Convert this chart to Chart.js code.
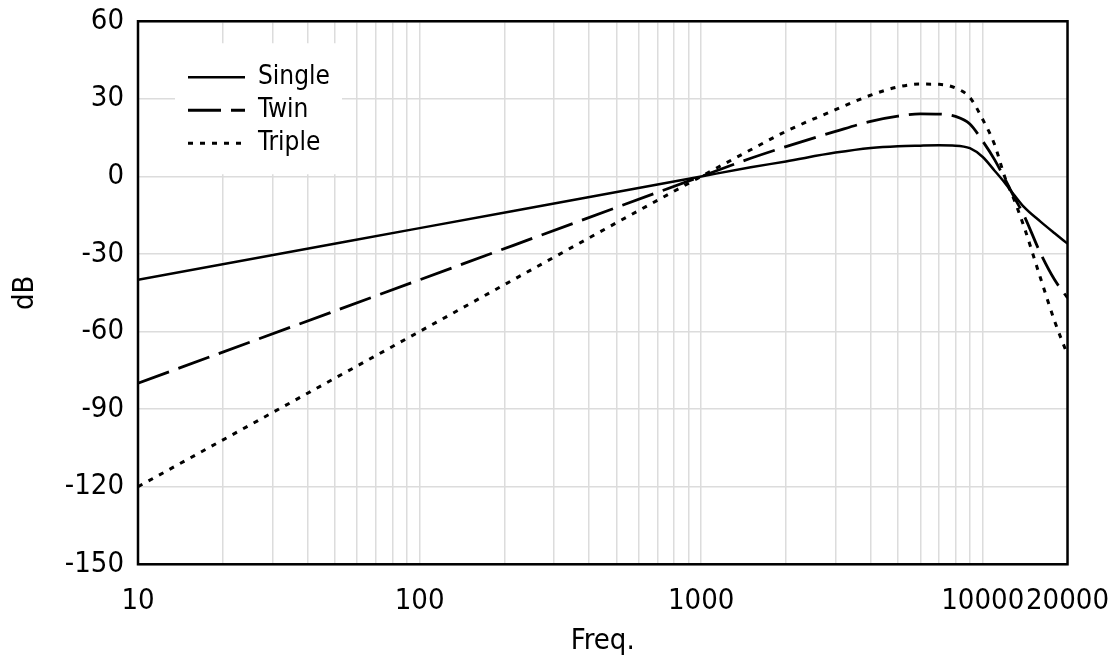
<!DOCTYPE html>
<html>
<head>
<meta charset="utf-8">
<title>Response</title>
<script src="https://cdn.jsdelivr.net/npm/chart.js@4.4.1/dist/chart.umd.min.js"></script>
<style>
  html, body { margin: 0; padding: 0; background: #fff; }
  #wrap { width: 1115px; height: 662px; }
</style>
</head>
<body>
<div id="wrap"><canvas id="response"></canvas></div>
<script>
// frequency points (Hz) and level (dB) of each filter
const freqs  = [10, 100, 1000, 1500, 2000, 3000, 4000, 5000, 6000, 7000, 8000, 9000, 10000, 11000, 12000, 13000, 14000, 16000, 18000, 20000];
const single = [-40, -20, 0, 3.5, 5.8, 9.2, 11.0, 11.7, 11.9, 12.0, 11.9, 10.9, 7.5, 2.3, -2.6, -7.5, -11.8, -17.4, -22, -26];
const twin   = [-80, -40, 0, 7.0, 11.5, 17.4, 21.3, 23.3, 24.2, 24.1, 23.2, 20.3, 13.6, 6.6, -1.1, -8.5, -15, -29.5, -40, -47];
const triple = [-120, -60, 0, 10.3, 17.4, 25.8, 31.4, 34.6, 35.7, 35.6, 34.2, 30.5, 22, 12.5, -0.5, -9.7, -19.3, -39, -56, -69];

// grid lines on the log axis, and the ones that get a label
const freqGrid = [10, 20, 30, 40, 50, 60, 70, 80, 90,
                  100, 200, 300, 400, 500, 600, 700, 800, 900,
                  1000, 2000, 3000, 4000, 5000, 6000, 7000, 8000, 9000,
                  10000, 20000];
const freqLabels = [10, 100, 1000, 10000, 20000];
const dbMin = -150, dbMax = 60, dbStep = 30;

const FAMILY = "'DejaVu Sans Condensed', 'DejaVu Sans', sans-serif";
const axisFont = { family: FAMILY, size: 29 };
const GRID = '#dcdcdc';

function toPoints(ys) {
    return freqs.map((f, i) => ({ x: f, y: ys[i] }));
}

// legend box sitting inside the plot, top left
const insideLegend = {
    id: 'insideLegend',
    afterDatasetsDraw(chart) {
        const { ctx, chartArea: a } = chart;
        ctx.save();
        ctx.fillStyle = '#fff';
        ctx.fillRect(a.left + 37, a.top + 22, 167, 131);
        ctx.font = '26px ' + FAMILY;
        ctx.textBaseline = 'middle';
        chart.data.datasets.forEach((ds, i) => {
            const y = a.top + 56 + i * 33;
            ctx.beginPath();
            ctx.strokeStyle = ds.borderColor;
            ctx.lineWidth = ds.borderWidth;
            ctx.setLineDash(ds.borderDash || []);
            ctx.moveTo(a.left + 50, y);
            ctx.lineTo(a.left + 107, y);
            ctx.stroke();
            ctx.setLineDash([]);
            ctx.fillStyle = '#000';
            ctx.fillText(ds.label, a.left + 120, y);
        });
        ctx.restore();
    }
};

// black frame round the plot area
const frame = {
    id: 'frame',
    afterDatasetsDraw(chart) {
        const { ctx, chartArea: a } = chart;
        ctx.save();
        ctx.strokeStyle = '#000';
        ctx.lineWidth = 2.5;
        ctx.strokeRect(a.left, a.top, a.right - a.left, a.bottom - a.top);
        ctx.restore();
    }
};

new Chart(document.getElementById('response'), {
    type: 'line',
    data: {
        datasets: [{
            label: 'Single',
            data: toPoints(single),
            borderColor: '#000',
            borderWidth: 2.5,
            borderDash: []
        }, {
            label: 'Twin',
            data: toPoints(twin),
            borderColor: '#000',
            borderWidth: 2.8,
            borderDash: [33, 10]
        }, {
            label: 'Triple',
            data: toPoints(triple),
            borderColor: '#000',
            borderWidth: 3,
            borderDash: [5, 7]
        }]
    },
    options: {
        responsive: true,
        maintainAspectRatio: false,
        animation: false,
        layout: { padding: { top: 0, right: 0, bottom: 0, left: 0 } },
        elements: {
            point: { radius: 0 },
            line: { cubicInterpolationMode: 'monotone', fill: false }
        },
        plugins: {
            legend: { display: false },
            tooltip: { enabled: false }
        },
        scales: {
            x: {
                type: 'logarithmic',
                min: 10,
                max: 20000,
                afterBuildTicks: (scale) => {
                    scale.ticks = freqGrid.map(v => ({ value: v }));
                },
                ticks: {
                    autoSkip: false,
                    maxRotation: 0,
                    padding: 6,
                    color: '#000',
                    font: { family: FAMILY, size: 29, lineHeight: 2.17 },
                    callback: (v) => freqLabels.includes(v) ? String(v) : ''
                },
                grid: { color: GRID, lineWidth: 1.5, drawTicks: false },
                border: { display: false },
                title: {
                    display: true,
                    text: 'Freq.',
                    color: '#000',
                    font: axisFont,
                    padding: { top: -15, bottom: 3 }
                }
            },
            y: {
                min: dbMin,
                max: dbMax,
                ticks: {
                    stepSize: dbStep,
                    padding: 14,
                    color: '#000',
                    font: { family: FAMILY, size: 29, lineHeight: 0.5 }
                },
                grid: { color: GRID, lineWidth: 1.5, drawTicks: false },
                border: { display: false },
                title: {
                    display: true,
                    text: 'dB',
                    color: '#000',
                    font: axisFont,
                    padding: { top: 8, bottom: 8 }
                }
            }
        }
    },
    plugins: [insideLegend, frame]
});
</script>
</body>
</html>
